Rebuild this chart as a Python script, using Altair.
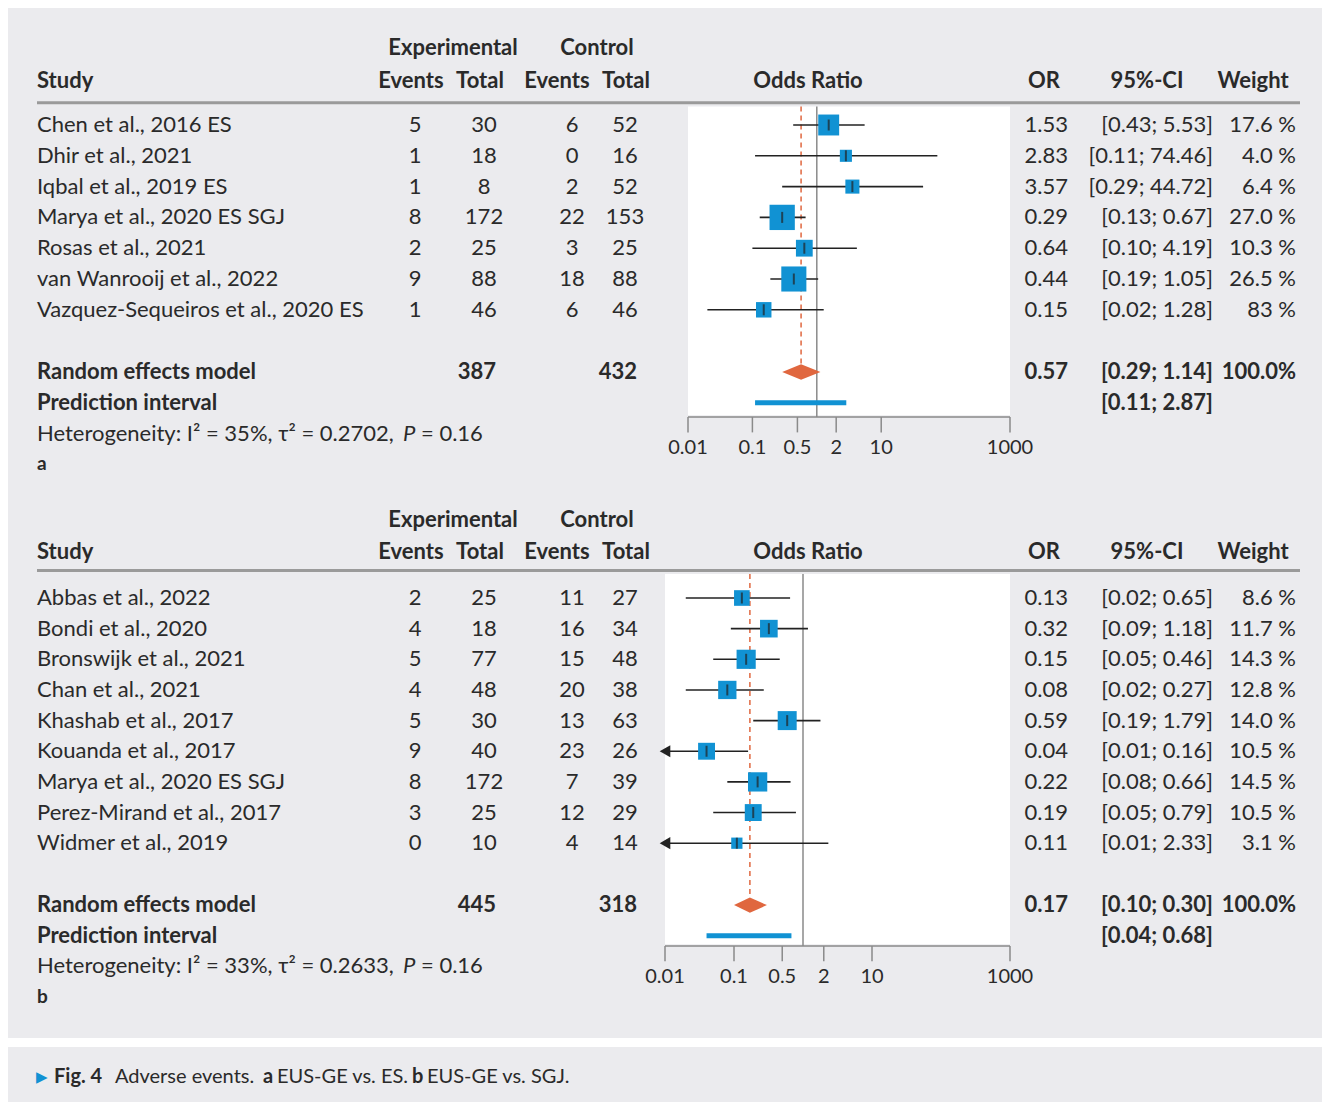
"""Forest plots: adverse events, EUS-GE vs. ES (a) and vs. SGJ (b)."""

import altair as alt
import pandas as pd

BG = "#ebebee"
BLUE = "#1192d3"
ORANGE = "#e0673f"
INK = "#2a2a2a"
FONT = "Lato"
FS = 22

# ---- panel a data
a_study = ["Chen et al., 2016 ES", "Dhir et al., 2021", "Iqbal et al., 2019 ES",
           "Marya et al., 2020 ES SGJ", "Rosas et al., 2021", "van Wanrooij et al., 2022",
           "Vazquez-Sequeiros et al., 2020 ES"]
a_ev_e = [5, 1, 1, 8, 2, 9, 1]
a_tot_e = [30, 18, 8, 172, 25, 88, 46]
a_ev_c = [6, 0, 2, 22, 3, 18, 6]
a_tot_c = [52, 16, 52, 153, 25, 88, 46]
a_or = [1.53, 2.83, 3.57, 0.29, 0.64, 0.44, 0.15]
a_lo = [0.43, 0.11, 0.29, 0.13, 0.10, 0.19, 0.02]
a_hi = [5.53, 74.46, 44.72, 0.67, 4.19, 1.05, 1.28]
a_weight = [17.6, 4.0, 6.4, 27.0, 10.3, 26.5, 8.3]
a_weight_lbl = ["17.6 %", "4.0 %", "6.4 %", "27.0 %", "10.3 %", "26.5 %", "83 %"]
a_arrow = [False] * 7
a_pooled = (0.57, 0.29, 1.14)
a_pred = (0.11, 2.87)
a_totals = (387, 432)
a_het = "Heterogeneity: I² = 35%, τ² = 0.2702, "

# ---- panel b data
b_study = ["Abbas et al., 2022", "Bondi et al., 2020", "Bronswijk et al., 2021",
           "Chan et al., 2021", "Khashab et al., 2017", "Kouanda et al., 2017",
           "Marya et al., 2020 ES SGJ", "Perez-Mirand et al., 2017", "Widmer et al., 2019"]
b_ev_e = [2, 4, 5, 4, 5, 9, 8, 3, 0]
b_tot_e = [25, 18, 77, 48, 30, 40, 172, 25, 10]
b_ev_c = [11, 16, 15, 20, 13, 23, 7, 12, 4]
b_tot_c = [27, 34, 48, 38, 63, 26, 39, 29, 14]
b_or = [0.13, 0.32, 0.15, 0.08, 0.59, 0.04, 0.22, 0.19, 0.11]
b_lo = [0.02, 0.09, 0.05, 0.02, 0.19, 0.01, 0.08, 0.05, 0.01]
b_hi = [0.65, 1.18, 0.46, 0.27, 1.79, 0.16, 0.66, 0.79, 2.33]
b_weight = [8.6, 11.7, 14.3, 12.8, 14.0, 10.5, 14.5, 10.5, 3.1]
b_weight_lbl = ["8.6 %", "11.7 %", "14.3 %", "12.8 %", "14.0 %", "10.5 %", "14.5 %", "10.5 %", "3.1 %"]
b_arrow = [False, False, False, False, False, True, False, False, True]
b_pooled = (0.17, 0.10, 0.30)
b_pred = (0.04, 0.68)
b_totals = (445, 318)
b_het = "Heterogeneity: I² = 33%, τ² = 0.2633, "

tick_values = [0.01, 0.1, 0.5, 2, 10, 1000]
tick_labels = ["0.01", "0.1", "0.5", "2", "10", "1000"]


def build_panel(study, ev_e, tot_e, ev_c, tot_c, orr, lo, hi, weight, weight_lbl, arrow,
                pooled, pred, totals, het, letter, x_range, first_px, step, rows, height):
    n = len(study)
    r_pool, r_pred, r_het, r_letter = rows["pool"], rows["pool"] + 1, rows["pool"] + 2, rows["pool"] + 3
    xs = alt.Scale(type="log", domain=[0.01, 1000], range=x_range)
    ys = alt.Scale(domain=[-first_px / step, (height - first_px) / step],
                   reverse=True, nice=False, zero=False)
    X = lambda f: alt.X(f"{f}:Q", scale=xs, axis=None)
    Y = lambda f: alt.Y(f"{f}:Q", scale=ys, axis=None)

    def text(df, x, align, bold=False, size=FS, field="t", style="normal"):
        return alt.Chart(df).mark_text(
            align=align, baseline="middle", font=FONT, fontSize=size,
            fontWeight="bold" if bold else "normal", fontStyle=style, color=INK,
        ).encode(x=alt.value(x), y=Y("row"), text=f"{field}:N")

    d = pd.DataFrame({
        "row": list(range(n)), "study": study, "ev_e": ev_e, "tot_e": tot_e,
        "ev_c": ev_c, "tot_c": tot_c, "or": orr, "lo": lo, "hi": hi, "w": weight,
        "wl": weight_lbl, "arrow": arrow,
    })
    d["or_t"] = d["or"].map(lambda v: f"{v:.2f}")
    d["ci_t"] = [f"[{a:.2f}; {b:.2f}]" for a, b in zip(lo, hi)]

    box = alt.Chart(pd.DataFrame({"x": [0.01], "x2": [1000], "y": [rows["box_top"]], "y2": [rows["box_bot"]]})).mark_rect(
        color="white").encode(x=X("x"), x2="x2", y=Y("y"), y2="y2")
    ref = alt.Chart(pd.DataFrame({"x": [1], "y": [rows["box_top"]], "y2": [rows["axis"]]})).mark_rule(
        color="#8a8a8a", strokeWidth=1.5).encode(x=X("x"), y=Y("y"), y2="y2")
    est = alt.Chart(pd.DataFrame({"x": [pooled[0]], "y": [rows["box_top"]], "y2": [r_pool]})).mark_rule(
        color=ORANGE, strokeWidth=1.5, strokeDash=[5, 4]).encode(x=X("x"), y=Y("y"), y2="y2")
    ci = alt.Chart(d).mark_rule(color="#222", strokeWidth=1.6).encode(x=X("lo"), x2="hi", y=Y("row"))
    sq = alt.Chart(d).mark_square(color=BLUE, opacity=1).encode(
        x=X("or"), y=Y("row"),
        size=alt.Size("w:Q", scale=alt.Scale(domain=[0, 27], range=[60, 640]), legend=None))
    tk = alt.Chart(d).mark_tick(color="#222", orient="vertical", size=11, thickness=2).encode(x=X("or"), y=Y("row"))
    arr = alt.Chart(d).transform_filter("datum.arrow").mark_point(
        shape="triangle-left", filled=True, color="#222", size=150, opacity=1).encode(x=X("lo"), y=Y("row"))
    diamond = alt.Chart(pd.DataFrame({
        "x": [pooled[1], pooled[0], pooled[2]],
        "y": [r_pool, r_pool - 0.25, r_pool], "y2": [r_pool, r_pool + 0.25, r_pool]})).mark_area(
        color=ORANGE, opacity=1).encode(x=X("x"), y=Y("y"), y2="y2")
    pi = alt.Chart(pd.DataFrame({"x": [pred[0]], "x2": [pred[1]], "y": [r_pred]})).mark_rule(
        color=BLUE, strokeWidth=5).encode(x=X("x"), x2="x2", y=Y("y"))
    axis_line = alt.Chart(pd.DataFrame({"x": [0.01], "x2": [1000], "y": [rows["axis"]]})).mark_rule(
        color="#8a8a8a", strokeWidth=1.5).encode(x=X("x"), x2="x2", y=Y("y"))
    ticks = pd.DataFrame({"x": tick_values, "lab": tick_labels,
                          "y": rows["axis"], "y2": rows["axis"] + 0.5, "ly": rows["axis"] + 1.0})
    tick_rules = alt.Chart(ticks).mark_rule(color="#8a8a8a", strokeWidth=1.5).encode(x=X("x"), y=Y("y"), y2="y2")
    tick_text = alt.Chart(ticks).mark_text(font=FONT, fontSize=20, color=INK, baseline="middle").encode(
        x=X("x"), y=Y("ly"), text="lab:N")
    hline = alt.Chart(pd.DataFrame({"row": [rows["line"]]})).mark_rule(color="#9a9a9a", strokeWidth=3).encode(
        x=alt.value(29), x2=alt.value(1292), y=Y("row"))

    h1 = pd.DataFrame({"row": [rows["h1"]]})
    h2 = pd.DataFrame({"row": [rows["h2"]]})
    headers = [
        text(h1.assign(t="Experimental"), 445, "center", True),
        text(h1.assign(t="Control"), 589, "center", True),
        text(h2.assign(t="Study"), 29, "left", True),
        text(h2.assign(t="Events"), 403, "center", True),
        text(h2.assign(t="Total"), 472, "center", True),
        text(h2.assign(t="Events"), 549, "center", True),
        text(h2.assign(t="Total"), 618, "center", True),
        text(h2.assign(t="Odds Ratio"), 800, "center", True),
        text(h2.assign(t="OR"), 1036, "center", True),
        text(h2.assign(t="95%-CI"), 1139, "center", True),
        text(h2.assign(t="Weight"), 1245, "center", True),
    ]
    body = [
        text(d, 29, "left", field="study"),
        text(d, 407, "center", field="ev_e"),
        text(d, 476, "center", field="tot_e"),
        text(d, 564, "center", field="ev_c"),
        text(d, 617, "center", field="tot_c"),
        text(d, 1060, "right", field="or_t"),
        text(d, 1205, "right", field="ci_t"),
        text(d, 1288, "right", field="wl"),
    ]
    p = pd.DataFrame({"row": [r_pool]})
    pp = pd.DataFrame({"row": [r_pred]})
    hh = pd.DataFrame({"row": [r_het]})
    summary = [
        text(p.assign(t="Random effects model"), 29, "left", True),
        text(p.assign(t=str(totals[0])), 488, "right", True),
        text(p.assign(t=str(totals[1])), 629, "right", True),
        text(p.assign(t=f"{pooled[0]:.2f}"), 1060, "right", True),
        text(p.assign(t=f"[{pooled[1]:.2f}; {pooled[2]:.2f}]"), 1205, "right", True),
        text(p.assign(t="100.0%"), 1288, "right", True),
        text(pp.assign(t="Prediction interval"), 29, "left", True),
        text(pp.assign(t=f"[{pred[0]:.2f}; {pred[1]:.2f}]"), 1205, "right", True),
        text(hh.assign(t=het), 29, "left"),
        text(hh.assign(t="P"), 395, "left", style="italic"),
        text(hh.assign(t="= 0.16"), 413, "left"),
        text(pd.DataFrame({"row": [r_letter], "t": [letter]}), 29, "left", True, 19),
    ]
    layers = [box, ref, est, ci, arr, sq, tk, diamond, pi, axis_line, tick_rules, tick_text, hline] + headers + body + summary
    return alt.layer(*layers).properties(width=1314, height=height)


panel_a = build_panel(
    a_study, a_ev_e, a_tot_e, a_ev_c, a_tot_c, a_or, a_lo, a_hi, a_weight, a_weight_lbl, a_arrow,
    a_pooled, a_pred, a_totals, a_het, "a", [680, 1002], 117, 30.8,
    {"h1": -2.5, "h2": -1.43, "line": -0.72, "box_top": -0.6, "box_bot": 9.42, "axis": 9.48, "pool": 8.02},
    500)
panel_b = build_panel(
    b_study, b_ev_e, b_tot_e, b_ev_c, b_tot_c, b_or, b_lo, b_hi, b_weight, b_weight_lbl, b_arrow,
    b_pooled, b_pred, b_totals, b_het, "b", [657, 1002], 87, 30.65,
    {"h1": -2.55, "h2": -1.5, "line": -0.9, "box_top": -0.78, "box_bot": 11.3, "axis": 11.35, "pool": 10.02},
    527)

cap = pd.DataFrame({"row": [0]})
cy = alt.Scale(domain=[-1, 1], range=[10, 67])


def ctext(t, x, bold=False, color=INK, size=20):
    return alt.Chart(cap.assign(t=t)).mark_text(
        align="left", baseline="middle", font=FONT, fontSize=size,
        fontWeight="bold" if bold else "normal", color=color,
    ).encode(x=alt.value(x), y=alt.Y("row:Q", scale=cy, axis=None), text="t:N")


gap = alt.Chart(cap).mark_rect(color="white").encode(
    x=alt.value(0), x2=alt.value(1314), y=alt.value(0), y2=alt.value(9))

caption = alt.layer(
    gap,
    ctext("▶", 28, color=BLUE, size=15),
    ctext("Fig. 4", 46, True),
    ctext("Adverse events.", 107),
    ctext("a", 255, True),
    ctext("EUS-GE vs. ES.", 269),
    ctext("b", 404, True),
    ctext("EUS-GE vs. SGJ.", 419),
).properties(width=1314, height=67)

chart = alt.vconcat(
    panel_a, panel_b, caption, spacing=0,
).properties(background=BG, padding=0).configure_view(fill=BG, stroke=None)

chart.save("out.html", embed_options={"renderer": "svg", "actions": False})
